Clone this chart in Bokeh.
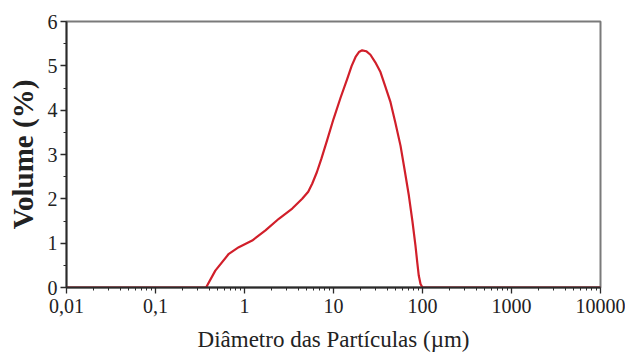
from bokeh.plotting import figure
from bokeh.models import Range1d, FixedTicker
from bokeh.embed import file_html
from bokeh.resources import INLINE

# Data
diameter_um = [0.01, 0.37, 0.47, 0.667, 0.863, 1.22, 1.72, 2.43, 3.44, 4.45, 5.2,
               5.76, 6.5, 7.3, 8.5, 10.0, 12.0, 14.3, 16.0, 17.7, 19.3, 21.0,
               23.3, 26.0, 29.5, 33.7, 38.0, 43.7, 49.5, 56.6, 63.0, 70.2, 77.0,
               83.3, 87.5, 90.8, 95.0, 100.0, 10000.0]
volume_pct = [0.0, 0.0, 0.38, 0.76, 0.91, 1.06, 1.29, 1.55, 1.78, 2.0, 2.16,
              2.34, 2.6, 2.9, 3.33, 3.80, 4.28, 4.71, 5.0, 5.20, 5.31, 5.35,
              5.33, 5.25, 5.08, 4.86, 4.55, 4.18, 3.72, 3.20, 2.65, 2.08, 1.50,
              0.95, 0.55, 0.27, 0.08, 0.0, 0.0]

x_ticks = [0.01, 0.1, 1, 10, 100, 1000, 10000]
x_tick_labels = ["0,01", "0,1", "1", "10", "100", "1000", "10000"]
y_ticks = [0, 1, 2, 3, 4, 5, 6]

FONT = "Liberation Serif"

p = figure(width=625, height=363, x_axis_type="log",
           x_range=Range1d(0.01, 10000), y_range=Range1d(0, 6),
           output_backend="svg", toolbar_location=None,
           min_border_left=66, min_border_right=25,
           min_border_top=21, min_border_bottom=76)

p.line(diameter_um, volume_pct, line_color="#d11f2a", line_width=2.2,
       line_join="round")

minor = []
for k in range(len(x_ticks) - 1):
    for m in range(2, 10):
        minor.append(x_ticks[k] * m)

p.xaxis.ticker = FixedTicker(ticks=x_ticks, minor_ticks=minor)
p.xaxis.major_label_overrides = {t: s for t, s in zip(x_ticks, x_tick_labels)}
p.yaxis.ticker = FixedTicker(ticks=y_ticks,
                             minor_ticks=[y + 0.5 for y in y_ticks[:-1]])

p.xaxis.axis_label = "Diâmetro das Partículas (µm)"
p.yaxis.axis_label = "Volume (%)"

for ax in (p.xaxis[0], p.yaxis[0]):
    ax.axis_line_color = "#2a2a2a"
    ax.axis_line_width = 1.8
    ax.major_tick_line_color = "#2a2a2a"
    ax.minor_tick_line_color = "#2a2a2a"
    ax.major_tick_line_width = 1.3
    ax.minor_tick_line_width = 1
    ax.major_tick_in = 0
    ax.major_tick_out = 6
    ax.minor_tick_in = 0
    ax.minor_tick_out = 3
    ax.major_label_text_font = FONT
    ax.major_label_text_font_size = "20px"
    ax.major_label_text_color = "#222222"
    ax.axis_label_text_font = FONT
    ax.axis_label_text_color = "#222222"

p.xaxis.major_label_standoff = 5
p.xaxis.axis_label_standoff = 11
p.xaxis.axis_label_text_font_size = "23px"
p.xaxis.axis_label_text_font_style = "normal"

p.yaxis.major_label_standoff = 3
p.yaxis.axis_label_standoff = 6
p.yaxis.axis_label_text_font_size = "29px"
p.yaxis.axis_label_text_font_style = "bold"

p.xgrid.visible = False
p.ygrid.visible = False
p.outline_line_color = "#7a7a7a"
p.outline_line_width = 2
p.background_fill_color = "white"
p.border_fill_color = "white"

open("out.html", "w").write(file_html(p, INLINE))
